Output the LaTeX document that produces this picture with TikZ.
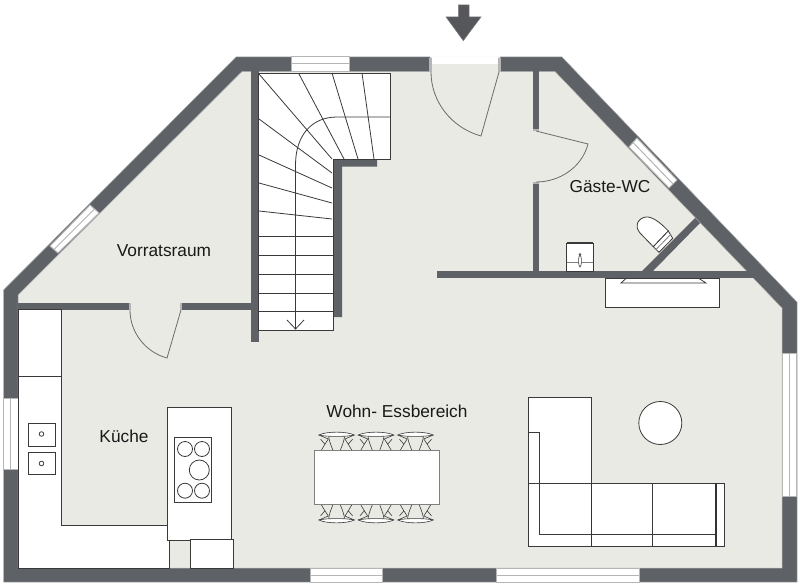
\documentclass[tikz,border=0pt]{standalone}
\usepackage{fontspec}
\setmainfont{Liberation Sans}
\usepackage{xcolor}
\usetikzlibrary{calc}
\definecolor{floorcol}{HTML}{E9EAE3}
\definecolor{wallcol}{HTML}{5E6165}
\definecolor{edgecol}{HTML}{B4B5B5}
\definecolor{linecol}{HTML}{3A3A3A}
\tikzset{
	wall/.style={fill=wallcol},
	pane/.style={fill=white,draw=edgecol,line width=1pt},
	jamb/.style={fill=edgecol},
	doorline/.style={draw=gray!85!black,line width=.8pt},
	item/.style={fill=white,draw=linecol,line width=.8pt},
	thin line/.style={draw=linecol,line width=.8pt},
	chair line/.style={draw=linecol,line width=.6pt},
	heavy line/.style={draw=black!80,line width=1.4pt},
	roomlabel/.style={font=\fontsize{17.3}{20}\selectfont,text=black!90,inner sep=0pt},
	chair/.pic={
		\draw[chair line,fill=white] (-17.7,-15.7) .. controls (-10,-19.5) and (10,-19.5) .. (17.7,-15.7) .. controls (10,-13.8) and (-10,-13.8) .. cycle;
		\draw[chair line] (-17.7,-15.7) -- (-8.3,-11.7) -- (-11.7,-6.5) -- (-16,-11.5);
		\draw[chair line] (17.7,-15.7) -- (8.3,-11.7) -- (11.7,-6.5) -- (16,-11.5);
		\draw[chair line] (-11.7,-6.5) -- (-15.5,0);
		\draw[chair line] (11.7,-6.5) -- (15.5,0);
		\draw[chair line] (-8,-14.2) .. controls (-7,-8) and (-5,-4) .. (-3.5,0);
		\draw[chair line] (8,-14.2) .. controls (7,-8) and (5,-4) .. (3.5,0);
	}
}
\begin{document}
\begin{tikzpicture}[x=1pt,y=-1pt]
	\useasboundingbox (0,0) rectangle (800,586);
	\fill[floorcol] (3.5,290) -- (236,57) -- (562,57) -- (797,302) -- (797,582) -- (3.5,582) -- cycle;
	\fill[white] (432,57) rectangle (498,64);
	% outer walls
	\draw[wall,draw=edgecol,line width=.5pt] (3.5,290) -- (236,57) -- (430,57) -- (430,71.5) -- (242,71.5) -- (18,295) -- (18,568) -- (782,568) -- (782,308) -- (555,71.5) -- (500,71.5) -- (500,57) -- (562,57) -- (797,302) -- (797,582) -- (3.5,582) -- cycle;
	\fill[jamb] (429,58) rectangle (432,71.5);
	\fill[jamb] (498,58) rectangle (500.5,71.5);
	% inner walls
	\fill[wall] (251,71) rectangle (258.5,342);
	\fill[wall] (334,159) -- (377,159) -- (377,166.5) -- (342,166.5) -- (342,317) -- (334,317) -- cycle;
	\fill[wall] (18,302.5) rectangle (128.5,310);
	\fill[wall] (182,302.5) rectangle (251,310);
	\fill[jamb] (128.5,302.5) rectangle (131,310);
	\fill[jamb] (180,302.5) rectangle (182,310);
	\fill[wall] (532.5,71) rectangle (539,129);
	\fill[wall] (532.5,184) rectangle (539,271);
	\fill[jamb] (532.5,129) rectangle (539,131);
	\fill[jamb] (532.5,182) rectangle (539,184);
	\fill[wall] (437,271) rectangle (757,278);
	\fill[wall] (695,218) -- (700,223) -- (653,271) -- (642,271) -- cycle;
	% windows
	\foreach \ax/\ay/\bx/\by/\cx/\cy/\dx/\dy in {291/57/349/57/349/71/291/71, 50/246/90/205/99/213/58/253, 637/138/677/180/669/188/629/147, 3.5/398/3.5/469/18/469/18/398, 310/568/382/568/382/582/310/582, 496/568/639/568/639/582/496/582, 782/353/782/496/796/496/796/353}{
		\draw[pane] (\ax,\ay) -- (\bx,\by) -- (\cx,\cy) -- (\dx,\dy) -- cycle;
		\draw[pane] ($(\ax,\ay)!.5!(\dx,\dy)$) -- ($(\bx,\by)!.5!(\cx,\cy)$);
	}
	% doors
	\draw[doorline] (431,72) .. controls (431,102) and (452,128) .. (481,136) -- (499,72);
	\draw[doorline] (130,310) .. controls (130,332) and (145,352) .. (167,358) -- (181,310);
	\draw[doorline] (536,182) .. controls (560,182) and (582,167) .. (588,144) -- (536,131);
	% stairs
	\draw[item] (258.5,73) -- (390,73) -- (390,159) -- (333,159) -- (333,330) -- (258.5,330) -- cycle;
	\foreach \ax/\ay/\bx/\by in {259/74/332/159, 299/74/344/159, 332/73/358/159, 362/73/374/159, 259/119/332/173, 259/155/332/188, 259/183/332/203, 259/211/332/219, 259/236/333/236, 259/255/333/255, 259/274/333/274, 259/293/333/293, 259/311/333/311}{
		\draw[thin line] (\ax,\ay) -- (\bx,\by);
	}
	\draw[thin line] (390,117) -- (337,117) .. controls (312,117) and (295.5,135) .. (295.5,165) -- (295.5,329);
	\draw[thin line] (287,320) -- (295.5,329) -- (304,320);
	% kitchen
	\draw[item] (18,309) -- (61,309) -- (61,525) -- (169,525) -- (169,568) -- (18,568) -- cycle;
	\draw[thin line] (18,376) -- (61,376);
	\draw[item] (28.5,423) rectangle (55.5,446);
	\draw[item] (28.5,452) rectangle (55.5,474);
	\draw[thin line] (41.5,434) circle (2.3);
	\draw[thin line] (41.5,463.5) circle (2.3);
	\draw[item] (167.7,407.7) rectangle (231.7,540);
	\draw[item] (190,539) rectangle (233.3,568);
	\draw[item] (174.7,437) rectangle (211.7,502);
	\foreach \cx/\cy/\r in {185/449/7.5, 202/449/7.5, 199.3/470/10, 185/490.7/7.5, 202/490.7/7.5}{
		\draw[thin line] (\cx,\cy) circle (\r);
	}
	% table and chairs
	\foreach \cx in {336.6, 376, 415.5}{
		\pic at (\cx,450.7) {chair};
		\pic[yscale=-1] at (\cx,504.3) {chair};
	}
	\draw[item,draw=gray] (314,450.7) rectangle (439.3,504.3);
	% sofa
	\draw[item] (528,397.3) rectangle (591.3,483.3);
	\draw[item] (528,483.3) rectangle (724.7,546.3);
	\draw[thin line] (528,432.3) -- (539.7,432.3) -- (539.7,534.3) -- (716,534.3);
	\draw[thin line] (528,483.3) -- (724.7,483.3);
	\draw[heavy line] (591.3,483.3) -- (591.3,546.3);
	\draw[thin line] (652.7,483.3) -- (652.7,546.3);
	\draw[heavy line] (716,483.3) -- (716,546.3);
	\draw[item] (660.3,423) circle (21.5);
	% guest wc
	\draw[item] (566.7,243) rectangle (593,271);
	\draw[draw=linecol,line width=1.2pt] (566.7,243) -- (593,243);
	\draw[draw=gray,line width=1pt] (566.7,262) -- (593,262);
	\draw[chair line,fill=white] (580,261) ellipse (1.4 and 6);
	\draw[chair line,fill=white] (580,254.5) circle (1);
	\draw[item] (653.3,246.7) -- (640,233) .. controls (634,226) and (638,218) .. (646,217) .. controls (652,216.5) and (660,222) .. (668.3,231) -- cycle;
	\draw[item] (668.3,231) -- (672.7,238.3) -- (659,252.3) -- (653.3,246.7) -- cycle;
	\draw[draw=gray,line width=.8pt] (670.5,234.6) -- (656,249.5);
	\draw[item] (605,278) rectangle (719,307);
	\draw[thin line] (626,278.5) -- (621,283) -- (706,283) -- (699,278.5);
	% entrance arrow
	\draw[fill=wallcol!90!black,draw=gray,line width=.5pt] (458.3,5) -- (469,5) -- (469,17) -- (481,17) -- (463.3,40.7) -- (446,17) -- (458.3,17) -- cycle;
	% labels
	\node[roomlabel] (vorrat) at (164,251) {Vorratsraum};
	\node[roomlabel] (kueche) at (124,436) {Küche};
	\node[roomlabel] (wohnen) at (397,411) {Wohn- Essbereich};
	\node[roomlabel] (gaeste) at (610,187) {Gäste-WC};
\end{tikzpicture}
\end{document}
